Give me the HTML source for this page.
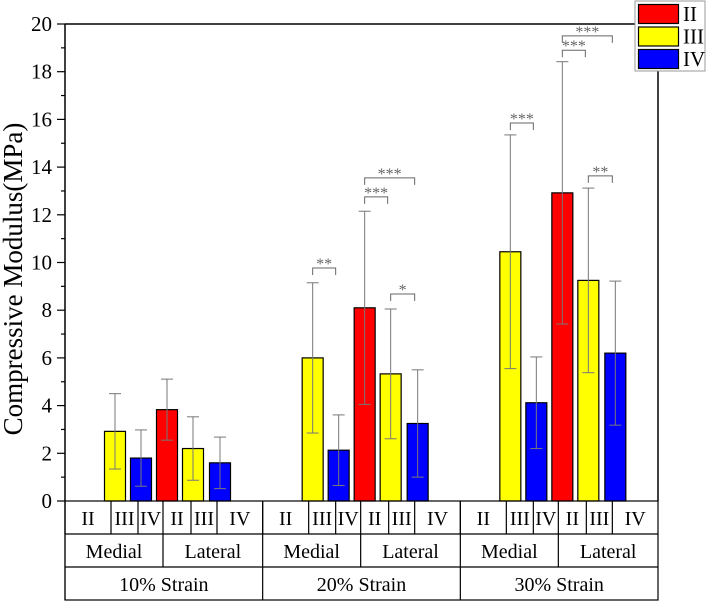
<!DOCTYPE html>
<html><head><meta charset="utf-8">
<style>
html,body{margin:0;padding:0;background:#fff;width:706px;height:603px;overflow:hidden}
svg{display:block;font-family:"Liberation Serif",serif}
</style></head>
<body>
<svg id="chart" width="706" height="603" viewBox="0 0 706 603"></svg>
<script>
const strains = ["10% Strain","20% Strain","30% Strain"];
const grades = ["II","III","IV","II","III","IV"];
const sides = ["Medial","Lateral"];
const means10 = [null,2.92,1.80,3.83,2.20,1.60];
const means20 = [null,6.00,2.13,8.10,5.33,3.25];
const means30 = [null,10.45,4.12,12.92,9.25,6.20];
const errs10 = [null,1.58,1.18,1.28,1.33,1.08];
const errs20 = [null,3.15,1.48,4.05,2.72,2.25];
const errs30 = [null,4.90,1.92,5.50,3.87,3.02];
const yTicks = [0,2,4,6,8,10,12,14,16,18,20];
// significance: [group, fromIndex, toIndex, level, label]
const sigs = [
 [1,1,2,9.77,"**"],[1,4,5,8.68,"*"],[1,3,4,12.75,"***"],[1,3,5,13.55,"***"],
 [2,1,2,15.85,"***"],[2,3,4,18.9,"***"],[2,3,5,19.5,"***"],[2,4,5,13.63,"**"]
];
const means=[means10,means20,means30], errs=[errs10,errs20,errs30];
const colors={"II":"#ff0000","III":"#ffff00","IV":"#0000ff"};
const X0=65,X1=658,Y0=501,Ytop=24;
const y=v=>Y0-(v/20)*(Y0-Ytop);
const groupW=(X1-X0)/3;
const cellRel=[0,46,73,98,126,152,197.7];
const barRel=[23,50,76,102,128,155];
const barW=21;
const svg=document.getElementById('chart');
const NS="http://www.w3.org/2000/svg";
function mk(t,a,p){const e=document.createElementNS(NS,t);for(const k in a)e.setAttribute(k,a[k]);(p||svg).appendChild(e);return e;}
function txt(s,x,yy,a,p){const e=mk('text',Object.assign({x:x,y:yy,'font-size':20,'text-anchor':'middle',fill:'#000'},a||{}),p);e.textContent=s;return e;}

const ax=mk('g',{});


mk('line',{x1:X0,y1:Ytop,x2:X1,y2:Ytop,stroke:'#000','stroke-width':1.5},ax);
mk('line',{x1:X1,y1:Ytop,x2:X1,y2:Y0,stroke:'#000','stroke-width':1.5},ax);
mk('line',{x1:X0,y1:Ytop,x2:X0,y2:Y0,stroke:'#000','stroke-width':1.5},ax);
for(let v=0;v<=20;v++){mk('line',{x1:X0-(v%2?4:8),y1:y(v),x2:X0,y2:y(v),stroke:'#000','stroke-width':1.2},ax);}
yTicks.forEach(v=>{const t=txt(String(v),52,y(v)+7,{'text-anchor':'end','font-size':21},ax);
});
const yt=txt("Compressive Modulus(MPa)",0,0,{'font-size':27,transform:'translate(22,279) rotate(-90)'});



for(let g=0;g<3;g++){
 const gx=X0+g*groupW;
 for(let i=0;i<6;i++){
  const m=means[g][i]; if(m==null) continue;
  const cx=gx+barRel[i];
  const r=mk('rect',{x:cx-barW/2,y:y(m),width:barW,height:Y0-y(m),fill:colors[grades[i]],stroke:'#000','stroke-width':1.2});
  
  
  const e=errs[g][i];
  const eg=mk('g',{stroke:'#777','stroke-width':1});
  
  
  mk('line',{x1:cx,y1:y(m+e),x2:cx,y2:y(m-e)},eg);
  mk('line',{x1:cx-6,y1:y(m+e),x2:cx+6,y2:y(m+e)},eg);
  mk('line',{x1:cx-6,y1:y(m-e),x2:cx+6,y2:y(m-e)},eg);
 }
}
sigs.forEach(s=>{
 const gx=X0+s[0]*groupW;
 const xa=gx+barRel[s[1]], xb=gx+barRel[s[2]]-3, yy=y(s[3]);
 const g=mk('g',{});
 
 
 mk('path',{d:`M${xa},${yy+7}V${yy}H${xb}V${yy+7}`,fill:'none',stroke:'#666','stroke-width':1},g);
 txt(s[4],(xa+xb)/2,yy+1,{'font-size':16,fill:'#666'},g);
});

const tb=mk('g',{});


const R=[501,534,567,600];
mk('rect',{x:X0,y:R[0],width:X1-X0,height:R[3]-R[0],fill:'none',stroke:'#000','stroke-width':1.2},tb);
[R[1],R[2]].forEach(yy=>mk('line',{x1:X0,y1:yy,x2:X1,y2:yy,stroke:'#000','stroke-width':1.2},tb));
for(let g=0;g<3;g++){
 const gx=X0+g*groupW;
 for(let i=0;i<6;i++){
  mk('line',{x1:gx+cellRel[i],y1:R[0],x2:gx+cellRel[i],y2:R[1],stroke:'#000','stroke-width':1.2},tb);
  const t=txt(grades[i],gx+(cellRel[i]+cellRel[i+1])/2,R[0]+24,{},tb);
  
 }
 mk('line',{x1:gx+cellRel[3],y1:R[1],x2:gx+cellRel[3],y2:R[2],stroke:'#000','stroke-width':1.2},tb);
 mk('line',{x1:gx,y1:R[0],x2:gx,y2:R[3],stroke:'#000','stroke-width':1.2},tb);
 const m1=txt("Medial",gx+cellRel[3]/2,R[1]+24,{},tb);
 
 const l1=txt("Lateral",gx+(cellRel[3]+cellRel[6])/2,R[1]+24,{},tb);
 
 const s1=txt(strains[g],gx+groupW/2,R[2]+24,{},tb);
 
}

const lg=mk('g',{});


mk('rect',{x:635,y:1,width:70,height:70,fill:'#fff',stroke:'#999','stroke-width':1},lg);
["II","III","IV"].forEach((k,i)=>{
 const e=mk('g',{},lg);
 
 
 mk('rect',{x:638.5,y:4.5+i*22.5,width:40,height:19,fill:colors[k],stroke:'#000','stroke-width':1.2},e);
 txt(k,683,21+i*22.5,{'text-anchor':'start','font-size':21},e);
});
</script>
</body></html>
